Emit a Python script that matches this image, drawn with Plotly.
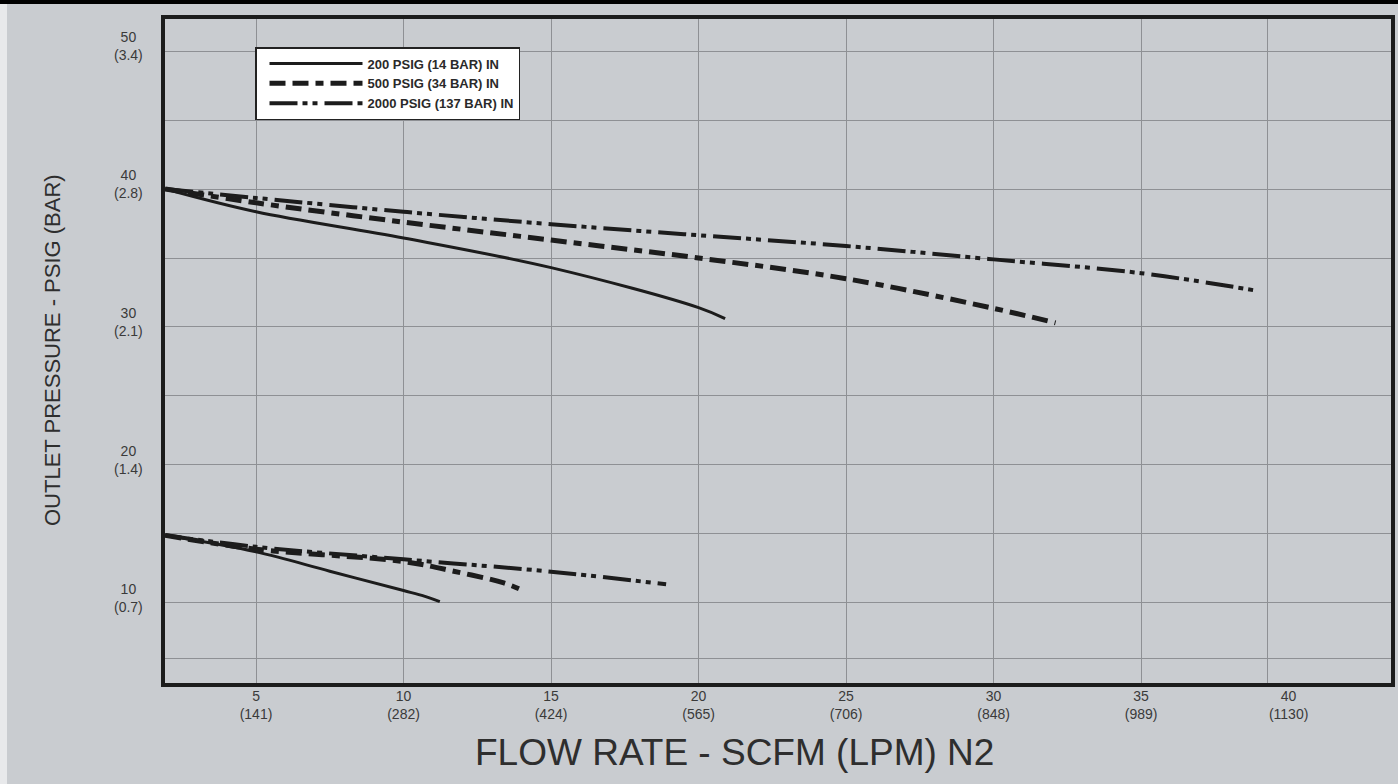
import plotly.graph_objects as go

# ---------------- data ----------------
series_names = ["200 PSIG (14 BAR) IN", "500 PSIG (34 BAR) IN", "2000 PSIG (137 BAR) IN"]

# upper family (set at 40 psig)
x200_hi = [1.92, 5, 10, 15, 20, 20.9]
y200_hi = [40.0, 38.35, 36.45, 34.3, 31.4, 30.6]
x500_hi = [1.92, 5, 10, 15, 20, 25, 30, 32.1]
y500_hi = [40.0, 39.0, 37.6, 36.3, 35.0, 33.5, 31.35, 30.3]
x2000_hi = [1.92, 5, 10, 15, 20, 25, 30, 35, 39.0]
y2000_hi = [40.0, 39.35, 38.35, 37.45, 36.65, 35.87, 34.9, 33.9, 32.6]

# lower family (set at 15 psig)
x200_lo = [1.92, 5, 7.5, 10, 10.7, 11.23]
y200_lo = [14.9, 13.7, 12.3, 10.9, 10.5, 10.1]
x500_lo = [1.92, 5, 10, 11.7, 13.4, 14.05]
y500_lo = [14.9, 13.9, 13.0, 12.3, 11.45, 10.9]
x2000_lo = [1.92, 5, 10, 15, 18.9]
y2000_lo = [14.9, 14.07, 13.16, 12.27, 11.35]

x_tick_vals = [5, 10, 15, 20, 25, 30, 35, 40]
x_tick_text = ["5<br>(141)", "10<br>(282)", "15<br>(424)", "20<br>(565)",
               "25<br>(706)", "30<br>(848)", "35<br>(989)", "40<br>(1130)"]
x_grid_vals = [5, 10, 15, 20, 25, 30, 35, 39.3]

y_tick_vals = [10, 20, 30, 40, 50]
y_tick_text = ["10<br>(0.7)", "20<br>(1.4)", "30<br>(2.1)", "40<br>(2.8)", "50<br>(3.4)"]
y_grid_vals = [5.95, 10, 15, 20, 25, 30, 35, 40, 45, 50]

x_title = "FLOW RATE - SCFM (LPM) N2"
y_title = "OUTLET PRESSURE - PSIG (BAR)"

# ---------------- styling ----------------
BG = "#c9ccd0"
INK = "#1c1c1c"
GRID = "#8e9094"
TXT = "#3a3a3a"
FONT = "Liberation Sans, Arial, sans-serif"

styles = [
    dict(width=3, dash="solid"),
    dict(width=5, dash="16px,7px,16px,7px,8px,7px"),
    dict(width=4, dash="28px,5px,5px,5px,5px,7px"),
]

series = [
    (x200_hi, y200_hi, x200_lo, y200_lo),
    (x500_hi, y500_hi, x500_lo, y500_lo),
    (x2000_hi, y2000_hi, x2000_lo, y2000_lo),
]

fig = go.Figure()
for name, st, (xh, yh, xl, yl) in zip(series_names, styles, series):
    fig.add_trace(go.Scatter(
        x=list(xh) + [None] + list(xl),
        y=list(yh) + [None] + list(yl),
        mode="lines",
        name=name,
        connectgaps=False,
        line=dict(color=INK, width=st["width"], dash=st["dash"], shape="spline", smoothing=1.0),
    ))

L, R, T, B = 165, 7, 19, 101
W, H = 1398, 784
pw, ph = W - L - R, H - T - B

annotations = []
for v, t in zip(y_tick_vals, y_tick_text):
    annotations.append(dict(
        x=0, xref="paper", y=v, yref="y", text=t, showarrow=False,
        xanchor="center", yanchor="middle", xshift=-37, yshift=5, align="center",
        font=dict(family=FONT, size=14, color=TXT),
    ))
annotations.append(dict(
    x=(734 - L) / pw, xref="paper", y=-(752 - (H - B)) / ph, yref="paper",
    text=x_title, showarrow=False, xanchor="center", yanchor="middle",
    font=dict(family=FONT, size=37, color="#2e2e2e"),
))
annotations.append(dict(
    x=0, xref="paper", xshift=52 - L, y=((H - B) - 350) / ph, yref="paper",
    text=y_title, textangle=-90, showarrow=False, xanchor="center", yanchor="middle",
    font=dict(family=FONT, size=22, color="#2e2e2e"),
))

shapes = [
    # dark band along the very top of the image
    dict(type="rect", xref="paper", yref="paper", x0=-0.2, x1=1.1,
         y0=1 + (T - 4) / ph, y1=1 + (T + 10) / ph, fillcolor="#000000",
         line=dict(width=0), layer="above"),
    # light strip on the left edge
    dict(type="rect", xref="paper", yref="paper", x0=-0.2, x1=(7 - L) / pw,
         y0=-0.3, y1=1 + (T - 4) / ph, fillcolor="#e8e9eb", line=dict(width=0), layer="below"),
]

fig.update_layout(
    width=W, height=H,
    margin=dict(l=L, r=R, t=T, b=B, autoexpand=False),
    paper_bgcolor=BG, plot_bgcolor=BG,
    showlegend=True,
    legend=dict(
        x=(255 - L) / pw, y=((H - B) - 47) / ph, xanchor="left", yanchor="top",
        bgcolor="#ffffff", bordercolor="#222222", borderwidth=1.5,
        itemwidth=93, tracegroupgap=0, indentation=8,
        font=dict(family=FONT, size=13, color="#2a2a2a", weight="bold"),
    ),
    annotations=annotations,
    shapes=shapes,
    xaxis=dict(
        range=[1.915, 43.47], tickmode="array", tickvals=x_tick_vals, ticktext=x_tick_text,
        showgrid=False, zeroline=False, ticks="", ticklen=0, ticklabelstandoff=-3,
        tickfont=dict(family=FONT, size=14, color=TXT),
        showline=True, mirror=True, linewidth=4, linecolor=INK,
        minor=dict(tickmode="array", tickvals=x_grid_vals, showgrid=True,
                   gridcolor=GRID, gridwidth=1, ticks=""),
    ),
    yaxis=dict(
        range=[4.20, 52.32], tickmode="array", tickvals=y_grid_vals,
        showticklabels=False, showgrid=True, gridcolor=GRID, gridwidth=1,
        zeroline=False, ticks="",
        showline=True, mirror=True, linewidth=4, linecolor=INK,
    ),
)

fig.write_html("out.html", config={"displayModeBar": False},
               post_script="document.body.style.margin='0';")
